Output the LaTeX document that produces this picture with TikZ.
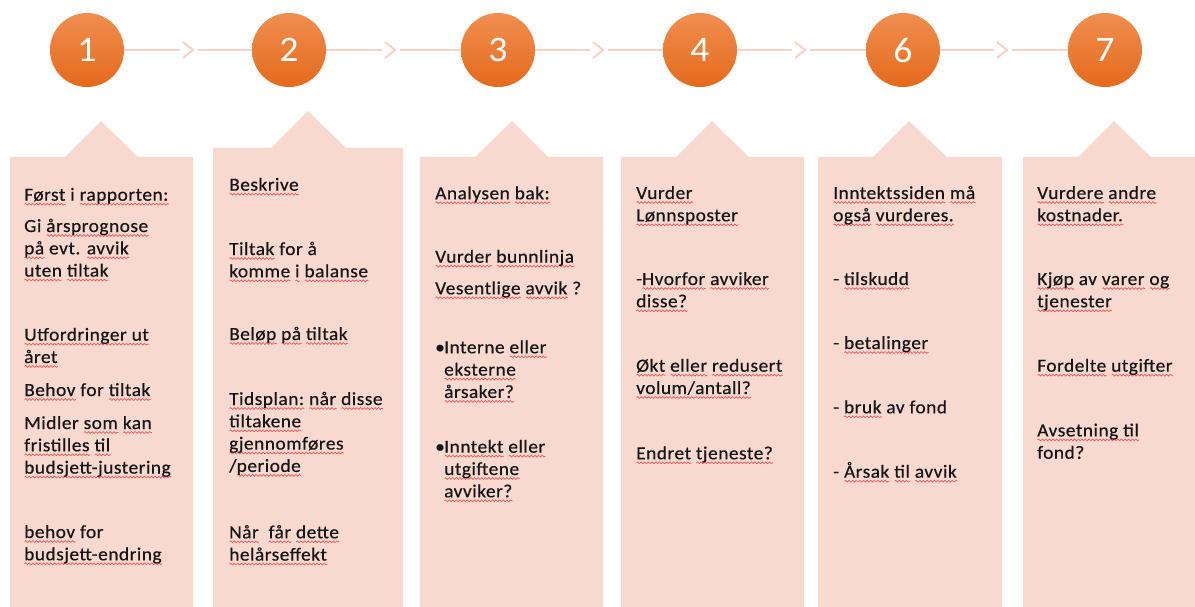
\documentclass[tikz,border=0pt]{standalone}
\usepackage{fontspec}
\setmainfont{Carlito}[FakeStretch=1.05,LetterSpace=2.6]
\usetikzlibrary{calc,decorations.pathmorphing}
\definecolor{boxc}{RGB}{248,217,207}
\definecolor{linec}{RGB}{248,210,198}
\definecolor{ctop}{RGB}{240,142,80}
\definecolor{cbot}{RGB}{228,106,28}
\definecolor{txt}{RGB}{22,22,22}
\definecolor{squig}{RGB}{238,88,88}
\newsavebox\sqbox
\newcommand\sq[1]{\sbox\sqbox{#1}\rlap{\tikz[x=1pt,y=1pt,baseline=0pt]\draw[draw=squig,line width=0.7pt,decorate,decoration={snake,amplitude=0.9pt,segment length=3.6pt}] (0,-3.5) -- (\the\wd\sqbox,-3.5);}\usebox\sqbox}
\begin{document}
\begin{tikzpicture}[x=1pt,y=-1pt,
  num/.style={circle, minimum size=74pt, inner sep=0pt, top color=ctop, bottom color=cbot,
    text=white, font=\addfontfeatures{LetterSpace=0}\fontsize{36}{36}\selectfont},
  conn/.style={draw=linec, line width=2.5pt},
  chev/.style={draw=linec, line width=2pt},
  para/.style={anchor=base west, inner sep=0pt, align=left, text=txt,
    font=\addfontfeatures{FakeBold=0.5}\fontsize{18.5}{22.3}\selectfont},
  panel/.style={fill=boxc}]
\useasboundingbox (0,0) rectangle (1195,607);
% panels
\path[panel] (10,157) -- (65,157) -- (101,121) -- (138,157) -- (193,157) -- (193,607) -- (10,607) -- cycle;
\path[panel] (213,148) -- (271,148) -- (308,111) -- (346,148) -- (403,148) -- (403,607) -- (213,607) -- cycle;
\path[panel] (420,157) -- (475,157) -- (512,121) -- (548,157) -- (603,157) -- (603,607) -- (420,607) -- cycle;
\path[panel] (621,157) -- (676,157) -- (712,121) -- (749,157) -- (804,157) -- (804,607) -- (621,607) -- cycle;
\path[panel] (818,157) -- (873,157) -- (909,121) -- (947,157) -- (1002,157) -- (1002,607) -- (818,607) -- cycle;
\path[panel] (1023,157) -- (1078,157) -- (1114,121) -- (1151,157) -- (1195,157) -- (1195,607) -- (1023,607) -- cycle;
% circles
\node[num] (c1) at (87,50) {1};
\node[num] (c2) at (289,50) {2};
\node[num] (c3) at (498,50) {3};
\node[num] (c4) at (700,50) {4};
\node[num] (c6) at (903,50) {6};
\node[num] (c7) at (1105,50) {7};
% connectors
\foreach \a/\b/\m in {c1/c2/188,c2/c3/390,c3/c4/598,c4/c6/800,c6/c7/1002}{
  \coordinate (m) at (\m,50);
  \draw[conn] (\a.east) -- ([xshift=-8pt]m);
  \draw[chev] ([shift={(-5pt,-8pt)}]m) -- ([shift={(5pt,0pt)}]m) -- ([shift={(-5pt,8pt)}]m);
  \draw[conn] ([xshift=10pt]m) -- (\b.west);
}
% box 1 (node positions are the baselines of the last lines)
\node[para] (t11) at (24,200.7) {\sq{Først} i \sq{rapporten:}};
\node[para] (t12) at (24,276.6) {Gi \sq{årsprognose}\\\sq{på} evt. \sq{avvik}\\\sq{uten} \sq{tiltak}};
\node[para] (t13) at (24,363) {\sq{Utfordringer ut}\\\sq{året}};
\node[para] (t14) at (24,396) {\sq{Behov} for \sq{tiltak}};
\node[para] (t15) at (24,473.6) {Midler \sq{som} \sq{kan}\\\sq{fristilles} \sq{til}\\\sq{budsjett-justering}};
\node[para] (t16) at (24,560.3) {\sq{behov} for\\\sq{budsjett-endring}};
% box 2
\node[para] (t21) at (229,190.7) {\sq{Beskrive}};
\node[para] (t22) at (229,277.3) {\sq{Tiltak} for å\\\sq{komme} \sq{i} \sq{balanse}};
\node[para] (t23) at (229,340) {\sq{Beløp} \sq{på} \sq{tiltak}};
\node[para] (t24) at (229,471.9) {\sq{Tidsplan:} \sq{når} \sq{disse}\\\sq{tiltakene}\\\sq{gjennomføres}\\/\sq{periode}};
\node[para] (t25) at (229,560.6) {\sq{Når}\ \ \sq{får} \sq{dette}\\\sq{helårseffekt}};
% box 3
\node[para] (t31) at (435,199.3) {\sq{Analysen} \sq{bak:}};
\node[para] (t32) at (435,262.7) {\sq{Vurder} \sq{bunnlinja}};
\node[para] (t33) at (435,294.3) {\sq{Vesentlige} \sq{avvik} ?};
\node[para] (t34a) at (435,353.3) {•};
\node[para] (t34) at (444,397.9) {Interne \sq{eller}\\\sq{eksterne}\\\sq{årsaker?}};
\node[para] (t35a) at (435,452.7) {•};
\node[para] (t35) at (444,497.3) {\sq{Inntekt} \sq{eller}\\\sq{utgiftene}\\\sq{avviker?}};
% box 4
\node[para] (t41) at (636,221.3) {\sq{Vurder}\\\sq{Lønnsposter}};
\node[para] (t42) at (636,307.3) {-\sq{Hvorfor} \sq{avviker}\\\sq{disse?}};
\node[para] (t43) at (636,394) {\sq{Økt} \sq{eller} \sq{redusert}\\\sq{volum/}\sq{antall?}};
\node[para] (t44) at (636,459.3) {\sq{Endret} \sq{tjeneste?}};
% box 5
\node[para] (t51) at (833,221.3) {\sq{Inntektssiden} \sq{må}\\\sq{også} \sq{vurderes.}};
\node[para] (t52) at (833,285) {- \sq{tilskudd}};
\node[para] (t53) at (833,349) {- \sq{betalinger}};
\node[para] (t54) at (833,413.3) {- \sq{bruk} av fond};
\node[para] (t55) at (833,477.7) {- \sq{Årsak} \sq{til} \sq{avvik}};
% box 6
\node[para] (t61) at (1037,221.3) {\sq{Vurdere} \sq{andre}\\\sq{kostnader.}};
\node[para] (t62) at (1037,307.3) {\sq{Kjøp} av \sq{varer} \sq{og}\\\sq{tjenester}};
\node[para] (t63) at (1037,371.7) {\sq{Fordelte} \sq{utgifter}};
\node[para] (t64) at (1037,458.7) {\sq{Avsetning til}\\fond?};
\end{tikzpicture}
\end{document}
